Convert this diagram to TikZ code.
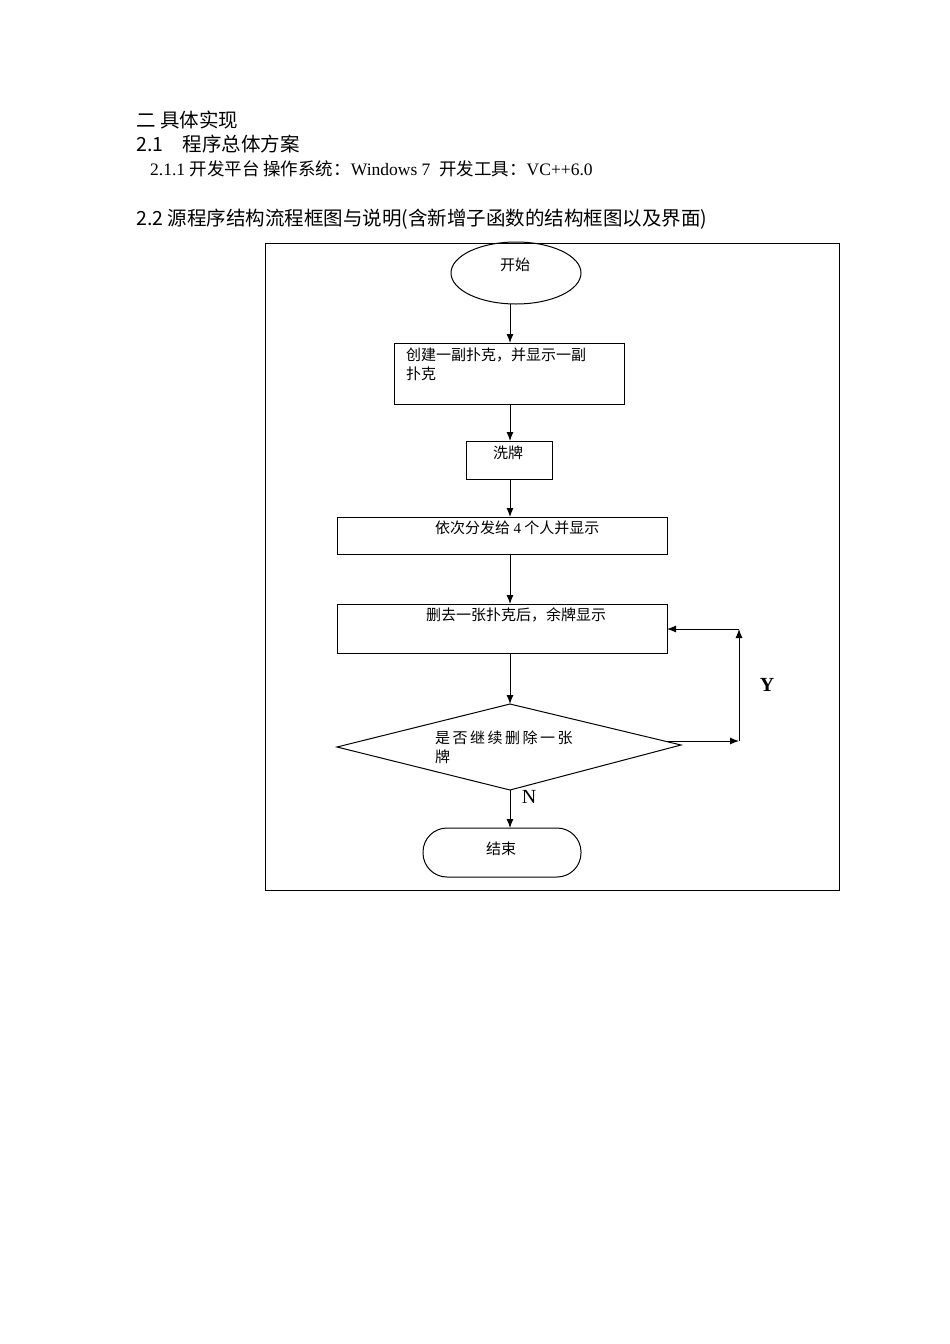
\documentclass[tikz,border=0pt]{standalone}
\usepackage{fontspec}
\setmainfont{Liberation Serif}
\newfontfamily\cjk{Noto Sans CJK SC}
\usetikzlibrary{shapes.geometric,arrows.meta}
\begin{document}
\begin{tikzpicture}[x=1pt,y=-1pt,
  box/.style={draw,line width=1pt,inner sep=0pt},
  arr/.style={-{Latex[length=9pt,width=7pt]},line width=1pt},
  lbl/.style={font=\cjk\fontsize{15}{19}\selectfont,anchor=north west,align=left,inner sep=0pt}]
\useasboundingbox (0,0) rectangle (950,1344);
\node[anchor=west,font=\cjk\fontsize{19.5}{21}\selectfont,inner sep=0pt] (h1) at (136,120) {二 具体实现};
\node[anchor=west,font=\cjk\fontsize{19.5}{21}\selectfont,inner sep=0pt] (h2) at (136,144) {2.1\quad 程序总体方案};
\node[anchor=west,font=\fontsize{17.5}{20}\selectfont,inner sep=0pt] (h3) at (150,169) {2.1.1 {\cjk 开发平台 操作系统：}Windows 7 \ {\cjk 开发工具：}VC++6.0};
\node[anchor=west,font=\cjk\fontsize{19.5}{21}\selectfont,inner sep=0pt] (h4) at (136,219) {2.2 源程序结构流程框图与说明(含新增子函数的结构框图以及界面)};
\draw[line width=1pt] (265,243) rectangle (839,890);
\draw[line width=1pt] (516,273) ellipse [x radius=65, y radius=31];
\node[lbl] (s) at (500,258) {开始};
\draw[box] (394,343) rectangle (624,404);
\node[lbl] (b1) at (406,348) {创建一副扑克，并显示一副\\扑克};
\draw[box] (466,441) rectangle (552,479);
\node[lbl] (b2) at (493,446) {洗牌};
\draw[box] (337,517) rectangle (667,554);
\node[lbl] (b3) at (435,521) {依次分发给 {\rmfamily 4} 个人并显示};
\draw[box] (337,604) rectangle (667,653);
\node[lbl] (b4) at (426,608) {删去一张扑克后，余牌显示};
\draw[line width=1pt] (510,704) -- (681,745) -- (510,790) -- (337,747) -- cycle;
\node[lbl] (d) at (435,731) {是\,否\,继\,续\,删\,除\,一\,张\\牌};
\draw[line width=1pt,rounded corners=24pt] (423,828) rectangle (581,877);
\node[lbl] (e) at (486,842) {结束};
\draw[arr] (510,304) -- (510,343);
\draw[arr] (510,404) -- (510,441);
\draw[arr] (510,479) -- (510,517);
\draw[arr] (510,554) -- (510,604);
\draw[arr] (510,653) -- (510,704);
\draw[arr] (510,790) -- (510,828);
\draw[arr] (667,741) -- (739,741);
\draw[arr] (739,741) -- (739,629);
\draw[arr] (739,629) -- (667,629);
\node[font=\bfseries\fontsize{20}{22}\selectfont] (y) at (767,685) {Y};
\node[font=\fontsize{20}{22}\selectfont] (n) at (529,797) {N};
\end{tikzpicture}
\end{document}
